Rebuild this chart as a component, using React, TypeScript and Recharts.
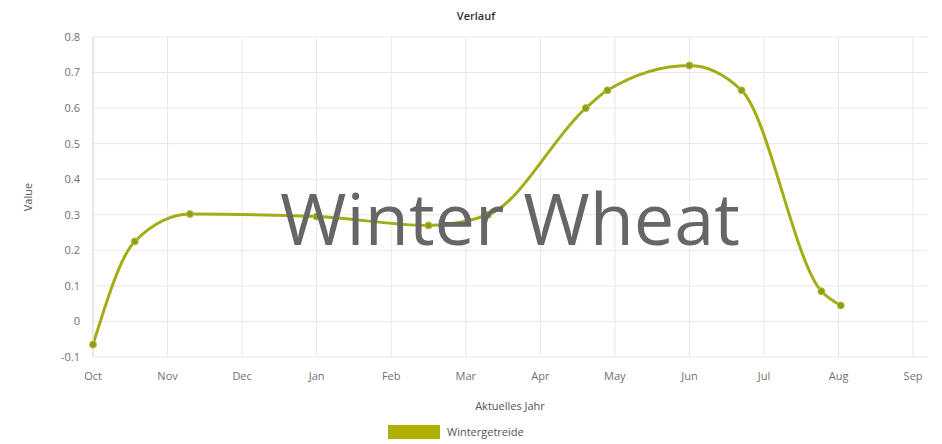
import { LineChart, Line, XAxis, YAxis, CartesianGrid } from 'recharts'

// month ticks, equally spaced as in the source chart
const months = ['Oct', 'Nov', 'Dec', 'Jan', 'Feb', 'Mar', 'Apr', 'May', 'Jun', 'Jul', 'Aug', 'Sep']
const monthTicks = [0, 1, 2, 3, 4, 5, 6, 7, 8, 9, 10, 11]
const yTicks = [-0.1, 0, 0.1, 0.2, 0.3, 0.4, 0.5, 0.6, 0.7, 0.8]

// position in months since 1 Oct, and the value
const pointPos = [0, 0.56, 1.3, 3.0, 4.5, 5.3, 6.61, 6.9, 8.0, 8.7, 9.77, 10.03]
const wheatValues = [-0.065, 0.225, 0.302, 0.295, 0.27, 0.3, 0.6, 0.65, 0.72, 0.65, 0.085, 0.045]

const data = pointPos.map((t, i) => ({ t, value: wheatValues[i] }))

const tickStyle = { fontSize: 11, fill: '#707070', fontFamily: 'Open Sans, sans-serif' }
const lineColor = '#a3ad16'

export default function App() {
  return (
    <div style={{ position: 'absolute', left: 0, top: 0, width: 942, height: 444, background: '#fff', fontFamily: 'Open Sans, sans-serif' }}>
      <LineChart width={942} height={444} data={data} margin={{ top: 37, right: 14, left: 0, bottom: 57 }}>
        <CartesianGrid stroke="#e8e8e8" strokeWidth={1} verticalValues={monthTicks} horizontalValues={yTicks} />
        <XAxis
          type="number"
          dataKey="t"
          domain={[0, 11.2]}
          ticks={monthTicks}
          tickFormatter={(v) => months[v as number]}
          tick={tickStyle}
          tickLine={false}
          axisLine={false}
          tickMargin={9}
          height={30}
          interval={0}
        />
        <YAxis
          type="number"
          domain={[-0.1, 0.8]}
          ticks={yTicks}
          tickFormatter={(v) => (v === 0 ? '0' : String(Math.round((v as number) * 10) / 10))}
          tick={tickStyle}
          tickLine={false}
          axisLine={{ stroke: '#d8d8d8' }}
          tickMargin={7}
          width={93}
          interval={0}
        />
        <Line
          type="monotone"
          dataKey="value"
          stroke={lineColor}
          strokeWidth={3}
          dot={{ r: 3.5, fill: '#909c1c', stroke: '#b8c23a', strokeWidth: 1 }}
          isAnimationActive={false}
        />
      </LineChart>

      <div style={{ position: 'absolute', left: 0, width: 952, top: 8, textAlign: 'center', fontSize: 11, fontWeight: 600, color: '#333' }}>
        Verlauf
      </div>
      <div style={{ position: 'absolute', left: 27, top: 197, transform: 'translate(-50%, -50%) rotate(-90deg)', fontSize: 11, color: '#555' }}>
        Value
      </div>
      <div style={{ position: 'absolute', left: 0, width: 1020, top: 398, textAlign: 'center', fontSize: 11, color: '#555' }}>
        Aktuelles Jahr
      </div>
      <div style={{ position: 'absolute', left: 388, top: 424, display: 'flex', alignItems: 'center' }}>
        <div style={{ width: 52, height: 14, background: '#b0b000' }} />
        <span style={{ marginLeft: 7, fontSize: 11, color: '#555' }}>Wintergetreide</span>
      </div>
      <div style={{ position: 'absolute', left: 0, width: 1020, top: 168, textAlign: 'center', fontSize: 72, color: '#666', pointerEvents: 'none', lineHeight: '98px' }}>
        Winter Wheat
      </div>
    </div>
  )
}
